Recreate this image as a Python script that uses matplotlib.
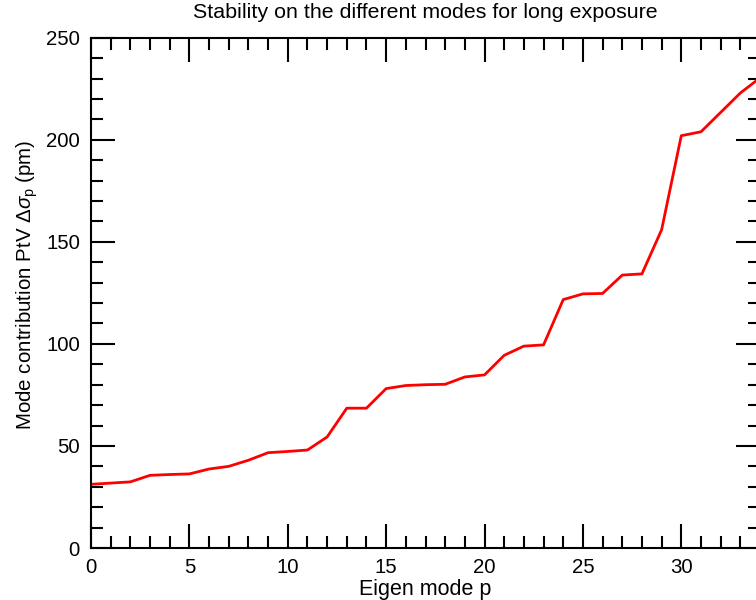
import numpy as np
import matplotlib
matplotlib.use("Agg")
import matplotlib.pyplot as plt
from matplotlib.ticker import MultipleLocator

plt.rcParams["font.family"] = ["Liberation Sans", "DejaVu Sans"]
plt.rcParams["mathtext.fontset"] = "custom"
plt.rcParams["mathtext.rm"] = "Liberation Sans"
plt.rcParams["mathtext.it"] = "Liberation Sans:italic"

# Eigen mode index and its PtV contribution (pm)
modes = np.arange(0, 35)
contrib = [31.2, 31.8, 32.4, 35.6, 36.0, 36.3, 38.7, 40.0, 43.0, 46.7,
           47.3, 48.0, 54.4, 68.5, 68.5, 78.1, 79.6, 80.0, 80.2, 83.8,
           84.8, 94.4, 98.9, 99.5, 121.7, 124.5, 124.7, 133.7, 134.3, 155.9,
           202.0, 203.9, 213.4, 222.9, 230.3]

fig = plt.figure(figsize=(7.56, 6.0), dpi=100)
ax = fig.add_axes([91 / 756, 1 - 548 / 600, (760 - 91) / 756, (548 - 37.7) / 600])

ax.plot(modes, contrib, color="#ff0000", linewidth=2.0)

ax.set_xlim(0, 34)
ax.set_ylim(0, 250)
ax.xaxis.set_major_locator(MultipleLocator(5))
ax.xaxis.set_minor_locator(MultipleLocator(1))
ax.yaxis.set_major_locator(MultipleLocator(50))
ax.yaxis.set_minor_locator(MultipleLocator(10))

ax.tick_params(which="both", direction="in", top=True, right=True,
               width=1.5, labelsize=14.7)
ax.tick_params(axis="x", pad=7)
ax.tick_params(axis="y", pad=8)
ax.tick_params(which="major", length=17)
ax.tick_params(which="minor", length=8.5)
for s in ax.spines.values():
    s.set_linewidth(1.5)

ax.set_title("Stability on the different modes for long exposure",
             fontsize=15.4, pad=14.5)
ax.set_xlabel("Eigen mode p", fontsize=15.5, labelpad=2)
ax.set_ylabel(r"Mode contribution PtV $\Delta\sigma_\mathrm{p}$ (pm)",
              fontsize=14.8)
ax.yaxis.set_label_coords(-0.076, 0.516)

fig.savefig("out.png", dpi=100)
